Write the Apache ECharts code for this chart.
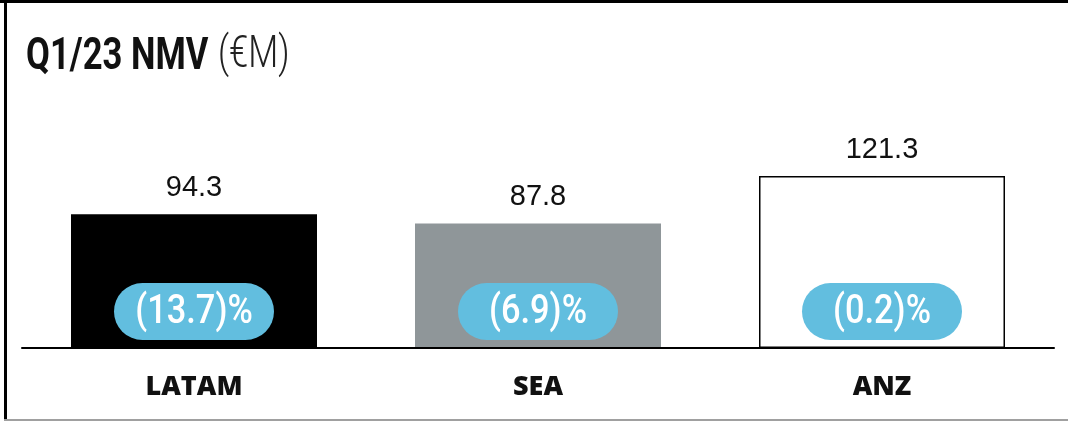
<!DOCTYPE html>
<html>
<head>
<meta charset="utf-8">
<script src="https://cdn.jsdelivr.net/npm/echarts@6/dist/echarts.min.js"></script>
<style>
  html, body { margin: 0; padding: 0; background: #fff; }
  #chart { width: 1068px; height: 421px; }
</style>
</head>
<body>
<div id="chart"></div>
<script>
// Net merchandise value by region, Q1/23 (€M), with year-on-year change
const categories = ['LATAM', 'SEA', 'ANZ'];
const nmvValues = [94.3, 87.8, 121.3];
const growthPct = [-13.7, -6.9, -0.2];

const barColors = ['#000000', '#8f9699', '#ffffff'];
const pillColor = '#62bedf';
const sansFont = '"Liberation Sans", Arial, sans-serif';

// Narrow display lettering: a regular face squeezed horizontally
const NARROW = 0.77;

function fmtGrowth(v) {
  const s = Math.abs(v).toFixed(1);
  return v < 0 ? '(' + s + ')%' : s + '%';
}

const chart = echarts.init(document.getElementById('chart'), null, { renderer: 'canvas' });

chart.setOption({
  animation: false,
  backgroundColor: '#ffffff',
  graphic: [
    // frame
    { type: 'rect', shape: { x: 0, y: 0, width: 1068, height: 3 }, style: { fill: '#000' }, silent: true },
    { type: 'rect', shape: { x: 4, y: 0, width: 3, height: 421 }, style: { fill: '#000' }, silent: true },
    { type: 'rect', shape: { x: 4, y: 419, width: 1064, height: 2 }, style: { fill: '#a0a0a0' }, silent: true },
    // heading
    {
      type: 'text', x: 26, y: 58, scaleX: NARROW, silent: true,
      style: { text: 'Q1/23 NMV', font: 'bold 45px Roboto', fill: '#111', align: 'left', verticalAlign: 'middle' }
    },
    {
      type: 'text', x: 218, y: 56, scaleX: NARROW, silent: true,
      style: { text: '(€M)', font: '300 45px Roboto', fill: '#222', align: 'left', verticalAlign: 'middle' }
    }
  ],
  grid: { left: 22, right: 14, top: 100, bottom: 73 },
  xAxis: {
    type: 'category',
    data: categories,
    axisTick: { show: false },
    axisLine: { lineStyle: { color: '#000', width: 2 } },
    axisLabel: {
      margin: 26,
      fontFamily: '"Open Sans", "Liberation Sans", sans-serif',
      fontWeight: 800,
      fontSize: 27,
      color: '#111'
    },
    z: 10
  },
  yAxis: {
    type: 'value',
    min: 0,
    max: 175,
    show: false,
    splitLine: { show: false }
  },
  series: [
    {
      type: 'bar',
      barWidth: 246,
      data: nmvValues.map((v, i) => ({
        value: v,
        itemStyle: i === 2
          ? { color: barColors[i], borderColor: '#000', borderWidth: 1.5 }
          : { color: barColors[i] }
      })),
      label: {
        show: true,
        position: 'top',
        distance: 12,
        fontFamily: sansFont,
        fontSize: 29,
        color: '#111',
        formatter: p => p.value.toFixed(1)
      }
    },
    {
      // growth badges sitting at the foot of each bar
      type: 'custom',
      data: growthPct.map((g, i) => [i, g]),
      encode: { x: 0 },
      z: 5,
      renderItem: function (params, api) {
        const i = api.value(0);
        const base = api.coord([i, 0]);
        const w = 160, h = 57;
        const cx = base[0];
        const cy = base[1] - 8 - h / 2;
        return {
          type: 'group',
          children: [
            {
              type: 'rect',
              shape: { x: cx - w / 2, y: cy - h / 2, width: w, height: h, r: h / 2 },
              style: { fill: pillColor }
            },
            {
              type: 'text',
              x: cx, y: cy + 1, scaleX: 0.86,
              style: {
                text: fmtGrowth(growthPct[i]),
                font: '500 40px Roboto',
                fill: '#ffffff',
                align: 'center',
                verticalAlign: 'middle'
              }
            }
          ]
        };
      }
    }
  ]
});
</script>
</body>
</html>
